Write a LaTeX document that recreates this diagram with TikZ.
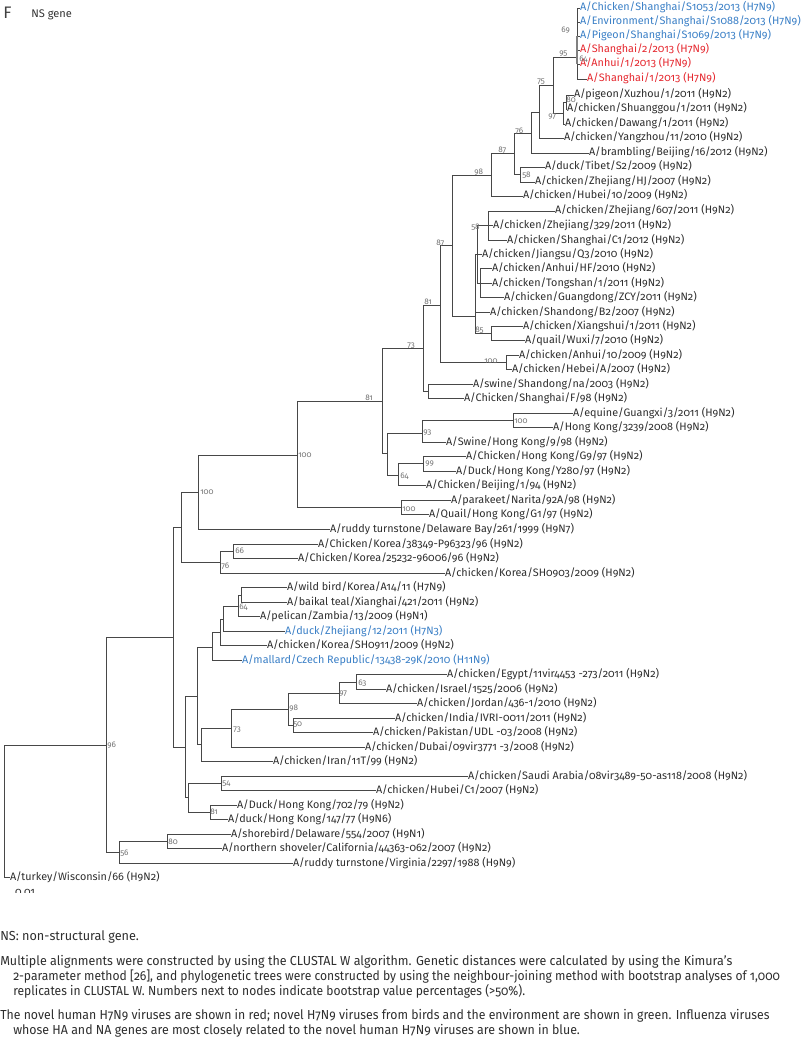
\documentclass[tikz,border=0pt]{standalone}
\usepackage{fontspec}
\setmainfont{Fira Sans}[Numbers=OldStyle]
\usepackage{graphicx}
\definecolor{hblue}{HTML}{3A7FC6}
\definecolor{hred}{HTML}{E5282F}
\tikzset{
  br/.style={draw=black!72, line width=0.7pt},
  bar/.style={draw=black!50, line width=1.6pt},
  leaf/.style={anchor=west, inner xsep=0pt, inner ysep=0pt, outer sep=0pt, text=black!82,
    font=\fontsize{8.1}{9}\selectfont, text height=6pt, text depth=1.5pt},
  boot/.style={anchor=west, inner sep=0pt, text=black!55, font=\fontsize{6.1}{7}\selectfont},
  capt/.style={anchor=west, inner sep=0pt, text=black!82, font=\fontsize{9.8}{11}\selectfont},
}
\newcommand{\capline}[2]{\resizebox{#1}{\height}{#2}}

\begin{document}
\begin{tikzpicture}[x=0.75pt,y=-0.75pt]
  \useasboundingbox (0,0) rectangle (800,1038);

  %%%%% HEADER %%%%%
  \node[anchor=west, inner sep=0pt, text=black!75, font=\fontsize{12.5}{14}\selectfont] (panel) at (3,13) {F};
  \node[anchor=west, inner sep=0pt, text=black!80, font=\fontsize{8.3}{10}\selectfont] (gene) at (31,15) {NS gene};

  %%%%% LEAVES %%%%%
  \node[leaf, text=hblue] (v01) at (580,8) {A/Chicken/Shanghai/S1053/2013 (H7N9)};
  \node[leaf, text=hblue] (v02) at (580,22) {A/Environment/Shanghai/S1088/2013 (H7N9)};
  \node[leaf, text=hblue] (v03) at (580,36) {A/Pigeon/Shanghai/S1069/2013 (H7N9)};
  \node[leaf, text=hred] (v04) at (580,50) {A/Shanghai/2/2013 (H7N9)};
  \node[leaf, text=hred] (v05) at (580,64) {A/Anhui/1/2013 (H7N9)};
  \node[leaf, text=hred] (v06) at (587,79) {A/Shanghai/1/2013 (H7N9)};
  \node[leaf] (v07) at (574,95) {A/pigeon/Xuzhou/1/2011 (H9N2)};
  \node[leaf] (v08) at (567,109) {A/chicken/Shuanggou/1/2011 (H9N2)};
  \node[leaf] (v09) at (565,124) {A/chicken/Dawang/1/2011 (H9N2)};
  \node[leaf] (v10) at (564,138) {A/chicken/Yangzhou/11/2010 (H9N2)};
  \node[leaf] (v11) at (589,153) {A/brambling/Beijing/16/2012 (H9N2)};
  \node[leaf] (v12) at (545,167) {A/duck/Tibet/S2/2009 (H9N2)};
  \node[leaf] (v13) at (535,182) {A/chicken/Zhejiang/HJ/2007 (H9N2)};
  \node[leaf] (v14) at (523,196) {A/chicken/Hubei/10/2009 (H9N2)};
  \node[leaf] (v15) at (555,211) {A/chicken/Zhejiang/607/2011 (H9N2)};
  \node[leaf] (v16) at (493,225) {A/chicken/Zhejiang/329/2011 (H9N2)};
  \node[leaf] (v17) at (507,240) {A/chicken/Shanghai/C1/2012 (H9N2)};
  \node[leaf] (v18) at (482,254) {A/chicken/Jiangsu/Q3/2010 (H9N2)};
  \node[leaf] (v19) at (492,268) {A/chicken/Anhui/HF/2010 (H9N2)};
  \node[leaf] (v20) at (492,283) {A/chicken/Tongshan/1/2011 (H9N2)};
  \node[leaf] (v21) at (504,297) {A/chicken/Guangdong/ZCY/2011 (H9N2)};
  \node[leaf] (v22) at (490,312) {A/chicken/Shandong/B2/2007 (H9N2)};
  \node[leaf] (v23) at (523,326) {A/chicken/Xiangshui/1/2011 (H9N2)};
  \node[leaf] (v24) at (525,340) {A/quail/Wuxi/7/2010 (H9N2)};
  \node[leaf] (v25) at (519,355) {A/chicken/Anhui/10/2009 (H9N2)};
  \node[leaf] (v26) at (512,369) {A/chicken/Hebei/A/2007 (H9N2)};
  \node[leaf] (v27) at (473,384) {A/swine/Shandong/na/2003 (H9N2)};
  \node[leaf] (v28) at (464,398) {A/Chicken/Shanghai/F/98 (H9N2)};
  \node[leaf] (v29) at (573,413) {A/equine/Guangxi/3/2011 (H9N2)};
  \node[leaf] (v30) at (553,427) {A/Hong Kong/3239/2008 (H9N2)};
  \node[leaf] (v31) at (446,442) {A/Swine/Hong Kong/9/98 (H9N2)};
  \node[leaf] (v32) at (466,456) {A/Chicken/Hong Kong/G9/97 (H9N2)};
  \node[leaf] (v33) at (456,471) {A/Duck/Hong Kong/Y280/97 (H9N2)};
  \node[leaf] (v34) at (426,485) {A/Chicken/Beijing/1/94 (H9N2)};
  \node[leaf] (v35) at (451,500) {A/parakeet/Narita/92A/98 (H9N2)};
  \node[leaf] (v36) at (429,514) {A/Quail/Hong Kong/G1/97 (H9N2)};
  \node[leaf] (v37) at (330,529) {A/ruddy turnstone/Delaware Bay/261/1999 (H9N7)};
  \node[leaf] (v38) at (318,544) {A/Chicken/Korea/38349-P96323/96 (H9N2)};
  \node[leaf] (v39) at (298,558) {A/Chicken/Korea/25232-96006/96 (H9N2)};
  \node[leaf] (v40) at (445,573) {A/chicken/Korea/SH0903/2009 (H9N2)};
  \node[leaf] (v41) at (287,587) {A/wild bird/Korea/A14/11 (H7N9)};
  \node[leaf] (v42) at (287,602) {A/baikal teal/Xianghai/421/2011 (H9N2)};
  \node[leaf] (v43) at (260,616) {A/pelican/Zambia/13/2009 (H9N1)};
  \node[leaf, text=hblue] (v44) at (285,631) {A/duck/Zhejiang/12/2011 (H7N3)};
  \node[leaf] (v45) at (267,645) {A/chicken/Korea/SH0911/2009 (H9N2)};
  \node[leaf, text=hblue] (v46) at (242,660) {A/mallard/Czech Republic/13438-29K/2010 (H11N9)};
  \node[leaf] (v47) at (447,674) {A/chicken/Egypt/11vir4453 -273/2011 (H9N2)};
  \node[leaf] (v48) at (386,689) {A/chicken/Israel/1525/2006 (H9N2)};
  \node[leaf] (v49) at (417,703) {A/chicken/Jordan/436-1/2010 (H9N2)};
  \node[leaf] (v50) at (395,718) {A/chicken/India/IVRI-0011/2011 (H9N2)};
  \node[leaf] (v51) at (373,732) {A/chicken/Pakistan/UDL -03/2008 (H9N2)};
  \node[leaf] (v52) at (365,747) {A/chicken/Dubai/09vir3771 -3/2008 (H9N2)};
  \node[leaf] (v53) at (273,761) {A/chicken/Iran/11T/99 (H9N2)};
  \node[leaf] (v54) at (468,776) {A/chicken/Saudi Arabia/08vir3489-50-as118/2008 (H9N2)};
  \node[leaf] (v55) at (376,790) {A/chicken/Hubei/C1/2007 (H9N2)};
  \node[leaf] (v56) at (237,805) {A/Duck/Hong Kong/702/79 (H9N2)};
  \node[leaf] (v57) at (228,819) {A/duck/Hong Kong/147/77 (H9N6)};
  \node[leaf] (v58) at (231,834) {A/shorebird/Delaware/554/2007 (H9N1)};
  \node[leaf] (v59) at (222,848) {A/northern shoveler/California/44363-062/2007 (H9N2)};
  \node[leaf] (v60) at (293,863) {A/ruddy turnstone/Virginia/2297/1988 (H9N9)};
  \node[leaf] (v61) at (10,877) {A/turkey/Wisconsin/66 (H9N2)};

  %%%%% INNER NODES %%%%%
  \coordinate (n64a) at (577,57);  \coordinate (n69) at (577,36);   \coordinate (n95) at (577,57);
  \coordinate (n80a) at (566,102); \coordinate (n97a) at (563,113); \coordinate (n75) at (553,85);
  \coordinate (u1) at (539,112);   \coordinate (n76a) at (531,133); \coordinate (n58a) at (520,174.5);
  \coordinate (n87a) at (514,153.5); \coordinate (n98a) at (491,175); \coordinate (n87b) at (452,245.5);
  \coordinate (n58b) at (488,225.5); \coordinate (u3) at (480,283); \coordinate (u2) at (477,254);
  \coordinate (n85) at (491,333);  \coordinate (u4) at (475,316);   \coordinate (n100a) at (506,362);
  \coordinate (n81a) at (440,305); \coordinate (u5) at (428,391);   \coordinate (n73a) at (423,348);
  \coordinate (n100b) at (513,420); \coordinate (n93) at (422,433); \coordinate (n99) at (423,463.5);
  \coordinate (n64b) at (398,475); \coordinate (u6) at (387,453);   \coordinate (n81b) at (382,401);
  \coordinate (n100c) at (401,507); \coordinate (n100d) at (297,455); \coordinate (n100e) at (198,492);
  \coordinate (n66) at (233,551);  \coordinate (n76b) at (220,562); \coordinate (u7) at (181,527);
  \coordinate (u8) at (241,595);   \coordinate (n64c) at (238,606); \coordinate (u9) at (223,619);
  \coordinate (u10) at (220,632);  \coordinate (u11) at (212,647);  \coordinate (n63) at (356,682);
  \coordinate (n97b) at (339,693); \coordinate (n50) at (293,725);  \coordinate (n98b) at (288,709);
  \coordinate (n73b) at (231,728); \coordinate (u12) at (201,744);  \coordinate (u13) at (197,696);
  \coordinate (n54) at (221,783);  \coordinate (n81c) at (210,812); \coordinate (u14) at (188,797);
  \coordinate (u15) at (185,747);  \coordinate (u16) at (173,637);  \coordinate (n80b) at (167,841);
  \coordinate (n56) at (119,852);  \coordinate (n96) at (106,745);  \coordinate (root) at (4,811);

  %%%%% BRANCHES %%%%%
  \foreach \p/\c in {n64a/v04, n64a/v05, n69/v01, n69/v02, n69/v03, n69/n64a, n95/n69, n95/v06,
      n80a/v07, n80a/v08, n97a/n80a, n97a/v09, n75/n95, n75/n97a, u1/n75, u1/v10,
      n76a/u1, n76a/v11, n58a/v12, n58a/v13, n87a/n76a, n87a/n58a, n98a/n87a, n98a/v14,
      n58b/v15, n58b/v16, n58b/v17, u3/v19, u3/v20, u3/v21, u2/n58b, u2/v18, u2/u3,
      n85/v23, n85/v24, u4/u2, u4/v22, u4/n85, n87b/n98a, n87b/u4,
      n100a/v25, n100a/v26, n81a/n87b, n81a/n100a, u5/v27, u5/v28, n73a/n81a, n73a/u5,
      n100b/v29, n100b/v30, n93/n100b, n93/v31, n99/v32, n99/v33, n64b/n99, n64b/v34,
      u6/n93, u6/n64b, n81b/n73a, n81b/u6, n100c/v35, n100c/v36, n100d/n81b, n100d/n100c,
      n100e/n100d, n100e/v37, n66/v38, n66/v39, n76b/n66, n76b/v40, u7/n100e, u7/n76b,
      u8/v41, u8/v42, n64c/u8, n64c/v43, u9/n64c, u9/v44, u10/u9, u10/v45, u11/u10, u11/v46,
      n63/v47, n63/v48, n97b/n63, n97b/v49, n50/v50, n50/v51, n98b/n97b, n98b/n50,
      n73b/n98b, n73b/v52, u12/n73b, u12/v53, u13/u11, u13/u12, n54/v54, n54/v55,
      n81c/v56, n81c/v57, u14/n54, u14/n81c, u15/u13, u15/u14, u16/u7, u16/u15,
      n80b/v58, n80b/v59, n56/n80b, n56/v60, n96/u16, n96/n56, root/n96, root/v61}
    \draw[br] (\p) |- (\c);
  \draw[bar] (n69) -- (n64a |- v05.west);

  %%%%% BOOTSTRAP %%%%%
  \foreach \x/\y/\v/\s in {561/30/69/s69, 559/54/95/s95, 579/59/64/s64a, 537/82/75/s75,
      566/100/80/s80a, 548/117/97/s97a, 515/131/76/s76a, 498/150/87/s87a, 474/172/98/s98a,
      522/175/58/s58a, 471/227/58/s58b, 436/243/87/s87b, 424/302/81/s81a, 475/330/85/s85,
      407/346/73/s73a, 484/361/100/s100a, 365/398/81/s81b, 514/421/100/s100b, 423/433/93/s93,
      298/455/100/s100d, 425/464/99/s99, 400/476/64/s64b, 200/492/100/s100e, 402/509/100/s100c,
      235/551/66/s66, 221/566/76/s76b, 239/607/64/s64c, 358/683/63/s63, 339/694/97/s97b,
      289/708/98/s98b, 293/725/50/s50, 233/730/73/s73b, 107/745/96/s96, 222/784/54/s54,
      210/812/81/s81c, 168/842/80/s80b, 120/853/56/s56}
    \node[boot] (\s) at (\x,\y) {\v};

  % scale bar label, cut by the figure edge
  \begin{scope}
    \clip (0,880) rectangle (80,892);
    \node[leaf, anchor=north west] (scale) at (15,887.5) {0.01};
  \end{scope}

  %%%%% CAPTION %%%%%
  \node[capt] (c1) at (0,937) {\capline{104pt}{NS: non-structural gene.}};
  \node[capt] (c2) at (0,962) {\capline{549pt}{Multiple alignments were constructed by using the CLUSTAL W algorithm. Genetic distances were calculated by using the Kimura's}};
  \node[capt] (c3) at (13,977) {\capline{575pt}{2-parameter method [26], and phylogenetic trees were constructed by using the neighbour-joining method with bootstrap analyses of 1,000}};
  \node[capt] (c4) at (13,991) {\capline{384pt}{replicates in CLUSTAL W. Numbers next to nodes indicate bootstrap value percentages (>50\%).}};
  \node[capt] (c5) at (0,1016) {\capline{577pt}{The novel human H7N9 viruses are shown in red; novel H7N9 viruses from birds and the environment are shown in green. Influenza viruses}};
  \node[capt] (c6) at (13,1031) {\capline{425pt}{whose HA and NA genes are most closely related to the novel human H7N9 viruses are shown in blue.}};
\end{tikzpicture}
\end{document}
